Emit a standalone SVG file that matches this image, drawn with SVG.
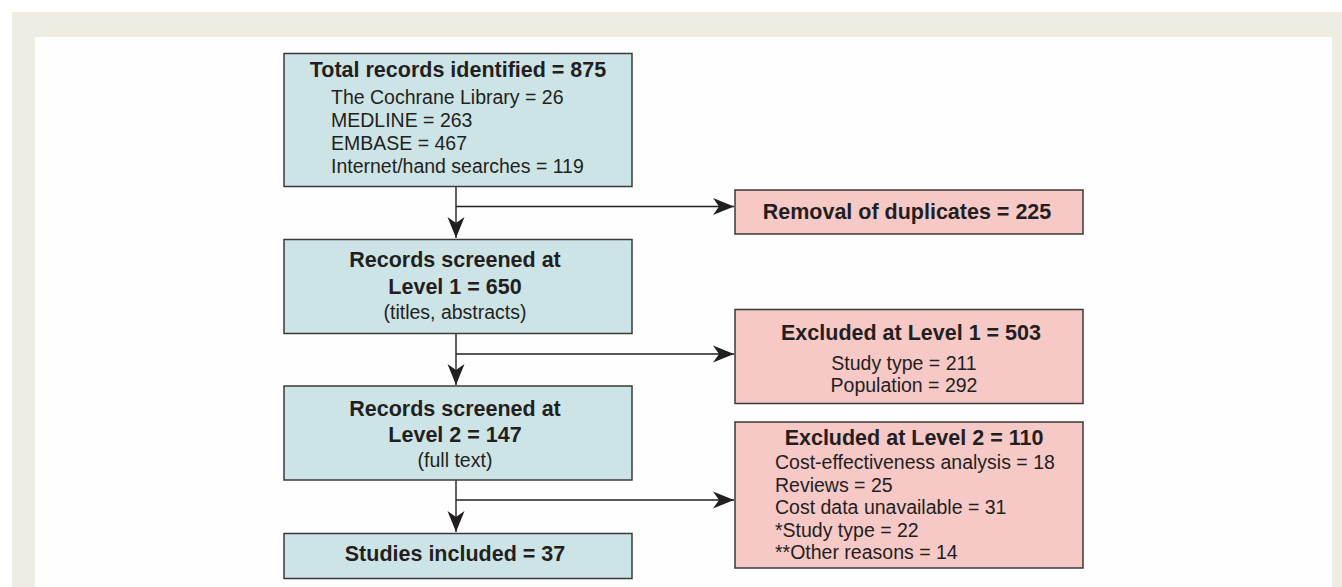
<svg xmlns="http://www.w3.org/2000/svg" width="1342" height="587" viewBox="0 0 1342 587">
<style>
.bg{fill:#efece1}
.blue{fill:#cde4e6;stroke:#3a3a3a;stroke-width:1.5}
.pink{fill:#f6c8c6;stroke:#3a3a3a;stroke-width:1.5}
.t{font-family:"Liberation Sans",Arial,sans-serif;fill:#231f20}
.b{font-weight:bold;font-size:21.5px}
.r{font-size:19.5px}
.m{text-anchor:middle}
.ln{fill:none;stroke:#231f20;stroke-width:1.4}
</style>
<defs>
<marker id="ah" markerUnits="userSpaceOnUse" markerWidth="24" markerHeight="20" viewBox="-22 -10 24 20" refX="0" refY="0" orient="auto">
<path d="M0,0 L-21,-8.5 L-15,0 L-21,8.5 Z" fill="#231f20"/>
</marker>
</defs>
<rect width="1342" height="587" fill="#ffffff"/>
<path class="bg" d="M12,12 H1342 V587 H1332 V37 H35 V587 H12 Z"/>
<rect x="35" y="37" width="1297" height="550" fill="#fefefe"/>
<g id="connectors">
<path class="ln" d="M456,187 V238" marker-end="url(#ah)"/>
<path class="ln" d="M456,206.5 H734" marker-end="url(#ah)"/>
<path class="ln" d="M456,334 V385" marker-end="url(#ah)"/>
<path class="ln" d="M456,354 H734" marker-end="url(#ah)"/>
<path class="ln" d="M456,480 V532" marker-end="url(#ah)"/>
<path class="ln" d="M456,500 H734" marker-end="url(#ah)"/>
</g>
<g id="total">
<rect class="blue" x="284" y="53.5" width="348" height="133"/>
<text class="t b m" x="458" y="77">Total records identified = 875</text>
<text class="t r" x="331" y="104">The Cochrane Library = 26</text>
<text class="t r" x="331" y="126.5">MEDLINE = 263</text>
<text class="t r" x="331" y="149.5">EMBASE = 467</text>
<text class="t r" x="331" y="172.5">Internet/hand searches = 119</text>
</g>
<g id="level1">
<rect class="blue" x="284" y="239.5" width="348" height="94"/>
<text class="t b m" x="455" y="267">Records screened at</text>
<text class="t b m" x="455" y="294">Level 1 = 650</text>
<text class="t r m" x="455" y="318.5">(titles, abstracts)</text>
</g>
<g id="level2">
<rect class="blue" x="284" y="386" width="348" height="94"/>
<text class="t b m" x="455" y="415.5">Records screened at</text>
<text class="t b m" x="455" y="441.5">Level 2 = 147</text>
<text class="t r m" x="455" y="466.5">(full text)</text>
</g>
<g id="included">
<rect class="blue" x="284" y="533.5" width="348" height="45"/>
<text class="t b m" x="455" y="561">Studies included = 37</text>
</g>
<g id="duplicates">
<rect class="pink" x="735" y="190" width="348" height="44"/>
<text class="t b m" x="907" y="219">Removal of duplicates = 225</text>
</g>
<g id="excluded1">
<rect class="pink" x="735" y="309.5" width="348" height="94"/>
<text class="t b m" x="911" y="340">Excluded at Level 1 = 503</text>
<text class="t r m" x="904" y="369.5">Study type = 211</text>
<text class="t r m" x="904" y="392">Population = 292</text>
</g>
<g id="excluded2">
<rect class="pink" x="735" y="422" width="348" height="146"/>
<text class="t b m" x="914" y="445">Excluded at Level 2 = 110</text>
<text class="t r" x="775" y="469">Cost-effectiveness analysis = 18</text>
<text class="t r" x="775" y="491.5">Reviews = 25</text>
<text class="t r" x="775" y="514">Cost data unavailable = 31</text>
<text class="t r" x="775" y="536.5">*Study type = 22</text>
<text class="t r" x="775" y="559">**Other reasons = 14</text>
</g>
</svg>
